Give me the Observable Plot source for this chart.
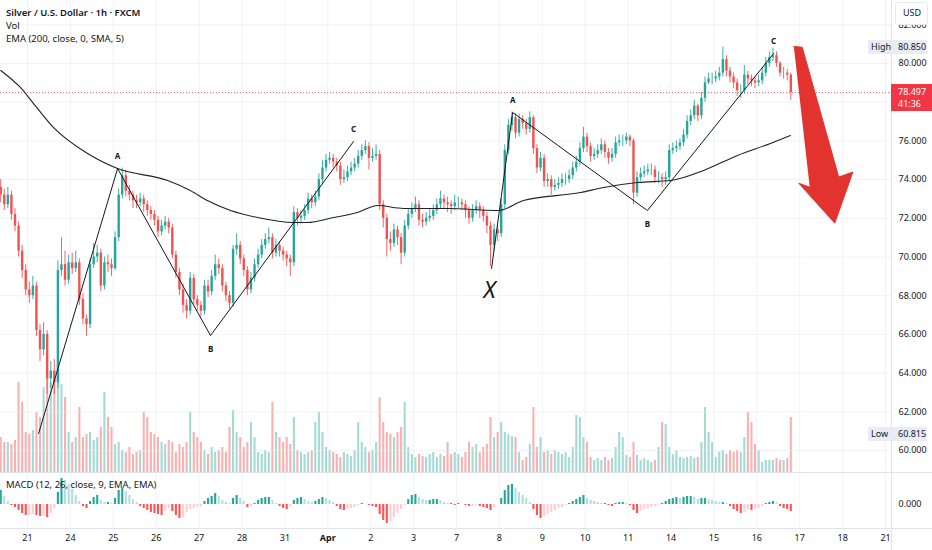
<!DOCTYPE html>
<html><head><meta charset="utf-8">
<script src="https://cdn.jsdelivr.net/npm/d3@7"></script>
<script src="https://cdn.jsdelivr.net/npm/@observablehq/plot@0.6"></script>
<style>
html,body{margin:0;padding:0;background:#fff;}
#wrap{position:relative;width:932px;height:550px;overflow:hidden;font-family:"Noto Sans",sans-serif;color:#131722;background:#fff;}
#wrap svg{position:absolute;left:0;overflow:visible;}
.lbl{position:absolute;white-space:nowrap;font-size:9.5px;line-height:12px;}
.sep{position:absolute;background:#e0e3eb;}
</style></head><body><div id="wrap"></div>
<script>
// ---------- DATA (2-hour candles) ----------
const opens = [73.6,73.2,72.7,73.2,72.2,71.6,70.3,69.3,68.3,68.0,
68.5,66.2,65.2,66.0,63.7,64.1,63.5,69.3,69.6,68.8,
69.7,69.4,69.7,67.8,66.8,66.5,69.6,70.0,70.2,68.5,
69.7,69.6,69.4,71.0,73.2,74.2,73.4,73.2,72.9,72.8,
73.0,72.7,72.4,72.2,71.9,71.3,71.6,71.8,71.5,70.1,
69.2,68.3,67.5,67.2,68.9,67.8,67.5,67.2,68.5,68.2,
69.0,69.6,69.4,68.5,68.0,67.6,70.4,70.6,69.9,69.3,
68.3,68.9,69.6,70.1,70.6,70.9,71.0,70.2,70.6,70.3,
70.1,69.9,69.7,72.3,72.0,72.1,72.4,73.0,72.8,73.1,
74.0,74.6,75.0,75.1,74.9,74.7,74.0,74.1,74.4,74.6,
74.8,75.2,75.5,75.7,75.1,75.2,75.3,72.7,72.0,70.9,
70.7,71.4,71.0,70.2,71.6,72.2,72.5,72.7,71.9,71.8,
72.0,72.1,72.4,72.7,73.0,72.8,72.7,72.6,72.8,72.8,
72.7,72.4,72.0,72.4,72.6,72.4,72.1,71.6,70.6,71.4,
71.2,72.7,75.5,76.8,77.2,76.4,77.1,76.9,76.6,77.2,
75.6,74.6,75.1,73.9,74.0,73.6,73.7,73.8,74.0,74.0,
74.2,74.6,74.9,75.6,76.2,75.7,75.2,75.3,75.5,75.8,
75.4,75.1,75.3,75.9,76.0,76.0,76.2,76.0,73.3,74.1,
74.3,74.4,74.5,74.5,74.1,74.1,74.0,74.1,75.5,75.6,
75.7,75.9,76.3,77.0,77.3,77.8,77.3,78.2,79.0,79.2,
79.2,79.3,79.5,80.2,79.6,79.3,79.0,78.6,78.6,79.4,
79.2,79.1,79.0,79.1,79.5,80.0,80.3,80.4,80.0,79.5,
79.5,79.4];
const highs = [74.0,73.5,73.6,73.4,72.5,71.8,70.6,69.6,68.7,69.0,
68.7,66.5,66.6,66.2,64.6,64.7,69.8,71.0,70.3,70.1,
70.2,70.3,69.9,68.1,67.0,69.9,70.7,70.6,70.4,70.0,
70.1,69.9,71.3,73.5,74.6,74.5,73.7,73.4,73.2,73.3,
73.2,72.9,72.6,72.4,72.1,71.9,72.1,72.0,71.7,70.3,
69.4,68.6,67.8,69.2,69.1,68.0,67.7,68.8,68.8,69.3,
70.1,69.9,69.6,68.7,68.2,70.6,71.2,70.8,70.1,69.5,
69.2,69.9,70.4,70.9,71.2,71.5,71.2,70.9,70.8,70.5,
70.3,70.1,72.6,72.5,72.4,72.7,73.3,73.2,73.4,74.3,
75.0,75.3,75.4,75.3,75.1,74.9,74.5,74.7,74.9,75.1,
75.5,75.8,76.0,75.9,75.6,75.8,75.5,72.9,72.2,71.3,
71.7,71.6,71.2,71.9,72.5,72.8,73.1,72.9,72.2,72.3,
72.5,72.7,73.0,73.4,73.2,73.1,72.9,73.2,73.1,73.0,
72.9,72.6,72.7,72.9,72.8,72.6,72.3,71.8,71.7,71.6,
73.0,75.8,77.1,77.5,77.4,77.4,77.3,77.1,77.5,77.3,
75.8,75.4,75.3,74.3,74.2,74.0,74.1,74.3,74.3,74.5,
74.9,75.2,75.9,76.7,76.4,75.9,75.6,75.8,76.1,76.0,
75.6,75.6,76.2,76.3,76.3,76.4,76.3,76.1,74.4,74.6,
74.7,74.8,74.8,74.7,74.4,74.3,74.4,75.8,75.9,76.0,
76.1,76.6,77.3,77.6,78.1,77.9,78.5,79.3,79.5,79.5,
79.6,79.8,80.85,80.4,79.8,79.5,79.2,78.9,79.9,79.6,
79.4,79.3,79.4,79.8,80.3,80.6,80.8,80.6,80.1,79.8,
79.7,79.5];
const lows = [72.8,72.4,72.5,71.9,71.3,70.0,68.9,68.0,67.6,67.8,
65.9,64.6,64.9,62.9,63.2,62.9,63.2,69.0,68.5,68.6,
69.1,69.2,67.5,66.5,65.9,66.3,69.4,69.7,68.2,68.3,
69.2,69.0,69.3,70.8,73.0,73.1,72.9,72.5,72.5,72.6,
72.3,72.1,71.9,71.6,71.0,71.1,71.4,71.2,69.9,68.9,
68.0,67.1,66.8,67.0,67.5,67.2,66.9,67.0,67.9,68.0,
68.8,69.1,68.2,67.7,67.3,67.4,70.1,69.6,69.0,68.0,
68.1,68.7,69.4,69.9,70.4,70.7,69.9,70.0,70.0,69.8,
69.5,69.0,69.5,71.6,71.7,71.9,72.2,72.5,72.6,72.9,
73.8,74.4,74.8,74.6,74.4,73.7,73.8,73.9,74.2,74.4,
74.6,75.0,75.3,74.5,74.9,75.0,72.4,71.5,70.0,70.3,
70.5,70.6,69.6,70.0,71.4,72.0,72.3,71.6,71.5,71.6,
71.8,71.9,72.2,72.5,72.5,72.3,72.2,72.4,72.5,72.4,
72.0,71.7,71.8,72.2,72.0,71.8,71.2,69.5,70.3,70.8,
71.0,72.5,75.3,76.5,76.1,76.2,76.6,76.3,76.4,75.3,
74.3,74.4,73.6,73.6,73.2,73.4,73.5,73.6,73.7,73.8,
74.0,74.4,74.7,75.4,75.4,74.9,75.0,75.1,75.3,75.1,
74.8,74.9,75.1,75.7,75.7,75.8,75.7,72.7,73.1,73.9,
74.1,74.2,74.2,73.8,73.8,73.6,73.7,73.9,75.3,75.4,
75.5,75.7,76.1,76.8,77.1,77.0,77.1,78.0,78.9,78.9,
79.0,79.1,79.3,79.3,79.0,78.7,78.3,78.2,78.4,78.9,
78.8,78.7,78.8,78.9,79.3,79.8,80.1,79.8,79.3,79.2,
79.1,78.1];
const closes = [73.2,72.7,73.2,72.2,71.6,70.3,69.3,68.3,68.0,68.5,
66.2,65.2,66.0,63.7,64.1,63.5,69.3,69.6,68.8,69.7,
69.4,69.7,67.8,66.8,66.5,69.6,70.0,70.2,68.5,69.7,
69.6,69.4,71.0,73.2,74.2,73.4,73.2,72.9,72.8,73.0,
72.7,72.4,72.2,71.9,71.3,71.6,71.8,71.5,70.1,69.2,
68.3,67.5,67.2,68.9,67.8,67.5,67.2,68.5,68.2,69.0,
69.6,69.4,68.5,68.0,67.6,70.4,70.6,69.9,69.3,68.3,
68.9,69.6,70.1,70.6,70.9,71.0,70.2,70.6,70.3,70.1,
69.9,69.7,72.3,72.0,72.1,72.4,73.0,72.8,73.1,74.0,
74.6,75.0,75.1,74.9,74.7,74.0,74.1,74.4,74.6,74.8,
75.2,75.5,75.7,75.1,75.2,75.3,72.7,72.0,70.9,70.7,
71.4,71.0,70.2,71.6,72.2,72.5,72.7,71.9,71.8,72.0,
72.1,72.4,72.7,73.0,72.8,72.7,72.6,72.8,72.8,72.7,
72.4,72.0,72.4,72.6,72.4,72.1,71.6,70.6,71.4,71.2,
72.7,75.5,76.8,77.2,76.4,77.1,76.9,76.6,77.2,75.6,
74.6,75.1,73.9,74.0,73.6,73.7,73.8,74.0,74.0,74.2,
74.6,74.9,75.6,76.2,75.7,75.2,75.3,75.5,75.8,75.4,
75.1,75.3,75.9,76.0,76.0,76.2,76.0,73.3,74.1,74.3,
74.4,74.5,74.5,74.1,74.1,74.0,74.1,75.5,75.6,75.7,
75.9,76.3,77.0,77.3,77.8,77.3,78.2,79.0,79.2,79.2,
79.3,79.5,80.2,79.6,79.3,79.0,78.6,78.6,79.4,79.2,
79.1,79.0,79.1,79.5,80.0,80.3,80.4,80.0,79.5,79.5,
79.4,78.5];
const volumes = [35,30,30,28,32,90,70,40,38,42,
60,55,85,95,90,92,95,88,75,40,
30,35,65,35,38,40,32,35,45,80,
55,45,28,30,22,20,25,18,20,22,
60,55,40,38,35,30,28,32,30,20,
28,25,30,60,40,35,30,22,18,25,
20,22,25,20,45,62,40,35,25,30,
50,35,20,18,22,20,70,40,35,30,
35,28,55,22,20,18,20,22,50,60,
40,25,22,20,18,15,20,18,16,22,
50,30,25,20,22,30,75,50,40,38,
35,40,45,70,25,18,15,18,16,15,
18,20,15,18,16,30,18,20,18,15,
20,30,25,28,20,25,28,55,35,40,
50,40,38,36,35,20,12,15,28,65,
25,35,20,22,18,22,20,18,20,15,
25,57,55,35,30,15,12,14,12,15,
12,14,25,40,35,17,15,30,17,12,
14,12,10,12,25,50,48,25,18,22,
15,14,15,16,14,15,30,65,40,30,
15,20,22,18,22,20,22,20,35,60,
50,28,22,10,12,12,12,14,12,12,
14,55];
const macdHist = [0.14,0.08,0.03,-0.01,-0.03,-0.06,-0.09,-0.11,-0.11,-0.10,
-0.11,-0.12,-0.12,-0.13,-0.09,-0.04,0.12,0.26,0.24,0.20,
0.15,0.09,0.03,-0.02,-0.04,0.03,0.07,0.09,0.04,0.02,
0.02,0.01,0.06,0.14,0.16,0.13,0.09,0.05,0.02,-0.02,
-0.04,-0.06,-0.08,-0.09,-0.10,-0.11,-0.07,-0.04,-0.07,-0.11,
-0.14,-0.13,-0.08,-0.05,-0.04,-0.03,-0.02,0.03,0.06,0.08,
0.11,0.08,0.04,0.02,0.01,0.06,0.09,0.06,0.03,-0.03,
-0.02,0.01,0.04,0.06,0.07,0.07,0.04,0.01,-0.02,-0.04,
-0.05,-0.03,0.04,0.06,0.07,0.05,0.03,0.02,0.03,0.05,
0.07,0.06,0.04,0.02,-0.02,-0.05,-0.06,-0.05,-0.04,-0.03,
-0.01,0.01,0.00,-0.01,-0.02,-0.03,-0.10,-0.16,-0.19,-0.17,
-0.13,-0.09,-0.05,-0.01,0.05,0.09,0.10,0.07,0.05,0.04,
0.04,0.05,0.05,0.04,0.02,0.01,0.01,-0.01,0.01,0.00,
-0.01,-0.02,-0.02,-0.01,-0.02,-0.03,-0.04,-0.06,-0.03,0.00,
0.06,0.14,0.19,0.20,0.16,0.12,0.09,0.06,0.02,-0.05,
-0.11,-0.14,-0.13,-0.10,-0.08,-0.06,-0.04,-0.03,-0.01,0.01,
0.03,0.05,0.07,0.09,0.06,0.04,0.03,0.02,0.01,0.01,
-0.01,-0.02,0.01,0.02,0.02,0.01,-0.01,-0.06,-0.09,-0.07,
-0.05,-0.04,-0.03,-0.02,-0.01,0.01,0.03,0.05,0.06,0.07,
0.06,0.07,0.08,0.08,0.07,0.05,0.06,0.06,0.05,0.04,
0.03,0.02,0.02,0.01,-0.02,-0.05,-0.07,-0.09,-0.08,-0.05,
-0.06,-0.05,-0.04,-0.02,0.01,0.02,0.03,0.02,-0.02,-0.04,
-0.05,-0.07];
// EMA(200) curve, read at bar positions
const emaBar = [0,5.5,9.2,14.8,24.3,32.7,46.7,53,57.8,64.3,71.8,81.9,85.8,93.1,99.8,105.4,112.7,125,139.2,146.2,162.2,168.6,178.1,187.4,196.6,206.1,215.3,220.9];
const emaVal = [79.64,78.76,77.93,76.69,75.35,74.57,73.95,73.44,72.92,72.40,72.04,71.78,71.78,72.04,72.30,72.66,72.51,72.51,72.40,72.92,73.33,73.59,73.85,73.95,74.47,75.25,75.87,76.28];
// hand-drawn wave annotations
const wave1Bar = [10.6,32.7,58.7,98.7], wave1Price = [60.88,74.57,65.94,75.97], wave1Label = ["","A","B","C"];
const wave2Bar = [137.3,143.2,180.9,216.2], wave2Price = [69.41,77.47,72.40,80.52], wave2Label = ["X","A","B","C"];
// big red arrow outline
const arrowBar = [221.85,224.2,234.4,238.35,233.3,223.25,226.3];
const arrowPrice = [80.88,80.84,74.13,74.39,71.75,73.81,73.61];
// axis labels
const dayLabels = ["21","24","25","26","27","28","31","Apr","2","3","7","8","9","10","11","14","15","16","17","18","21"];
const priceTicks = [60,62,64,66,68,70,72,74,76,78,80,82];
const priceLabelTicks = [60,62,64,66,68,70,72,74,76,80,82]; // 78.000 sits under the last-price tag
const lastPrice = 78.497, countdown = "41:36", highPrice = 80.850, lowPrice = 60.815;

// ---------- BUILD ----------
const W = 932, PANE = 472, AXW = 41, FONT = "Noto Sans, sans-serif";
const UP = "#26a69a", DN = "#ef5350";
const bars = closes.map((c, i) => ({i, o: opens[i], h: highs[i], l: lows[i], c, v: volumes[i], m: macdHist[i]}));
const isUp = d => d.c >= d.o;
const dayTicks = dayLabels.map((_, k) => 7.5 + 12 * k); // first (partial) day holds 8 bars, then 12 per day
const tickLabel = new Map(dayTicks.map((t, k) => [t, dayLabels[k]]));
const xDomain = [-0.056, 249.17];
const yDomain = [58.863, 83.256];
const ema = emaBar.map((b, k) => ({b, p: emaVal[k]}));
const wave1 = wave1Bar.map((b, k) => ({b, p: wave1Price[k], t: wave1Label[k]}));
const wave2 = wave2Bar.map((b, k) => ({b, p: wave2Price[k], t: wave2Label[k]}));
const waves = wave1.concat(wave2);
const arrow = arrowBar.map((b, k) => ({b, p: arrowPrice[k]}));
const base = {width: W, marginLeft: 0, marginRight: AXW, style: {background: "transparent", fontFamily: FONT, fontSize: "9px", color: "#131722"}};

const volPlot = Plot.plot({...base, height: PANE, marginTop: PANE - 100, marginBottom: 0,
  x: {domain: xDomain, axis: null}, y: {domain: [0, 100], axis: null},
  marks: [Plot.ruleX(bars, {x: "i", y1: 0, y2: "v", stroke: d => isUp(d) ? "#a3dad4" : "#f7b2b0", strokeWidth: 2.1})]});

const mainPlot = Plot.plot({...base, height: PANE, marginTop: 0, marginBottom: 0,
  x: {domain: xDomain, axis: null}, y: {domain: yDomain, axis: null},
  marks: [
    Plot.gridY(priceTicks, {stroke: "#e6e9f0", strokeOpacity: 0.6}),
    Plot.gridX(dayTicks, {stroke: "#e6e9f0", strokeOpacity: 0.6}),
    Plot.axisY(priceLabelTicks, {anchor: "right", label: null, tickFormat: d => d.toFixed(3), tickSize: 0, tickPadding: 7, fontSize: 9}),
    Plot.ruleY([lastPrice], {stroke: "#f23645", strokeDasharray: "1,2", strokeWidth: 0.8}),
    Plot.ruleX(bars, {x: "i", y1: "l", y2: "h", stroke: d => isUp(d) ? UP : DN, strokeWidth: 0.9}),
    Plot.ruleX(bars, {x: "i", y1: "o", y2: "c", stroke: d => isUp(d) ? UP : DN, strokeWidth: 2.4}),
    Plot.line(ema, {x: "b", y: "p", stroke: "#1e222d", strokeWidth: 1.1, curve: "monotone-x"}),
    Plot.line(wave1, {x: "b", y: "p", stroke: "#131722", strokeWidth: 1}),
    Plot.line(wave2, {x: "b", y: "p", stroke: "#131722", strokeWidth: 1}),
    Plot.text(waves.filter(d => d.t === "A" || d.t === "C"), {x: "b", y: "p", text: "t", dy: -12, fontSize: 8, fontWeight: "bold", fill: "#131722"}),
    Plot.text(waves.filter(d => d.t === "B"), {x: "b", y: "p", text: "t", dy: 14, fontSize: 8, fontWeight: "bold", fill: "#131722"}),
    Plot.text(waves.filter(d => d.t === "X"), {x: "b", y: "p", text: "t", dy: 22, dx: -2, fontSize: 23, fontStyle: "italic", fill: "#131722"}),
    Plot.line(arrow, {x: "b", y: "p", fill: "#e2332e", stroke: "#e2332e", strokeWidth: 1, strokeLinejoin: "round"})
  ]});

const macdColor = (d, i) => {
  const prev = i > 0 ? macdHist[i - 1] : 0;
  if (d.m >= 0) return d.m >= prev ? "#26a69a" : "#b2dfdb";
  return d.m < prev ? "#ff5252" : "#ffcdd2";
};
const macdPlot = Plot.plot({...base, height: 78, marginTop: 0, marginBottom: 22,
  x: {domain: xDomain, axis: null, label: null}, y: {domain: [-0.24, 0.32], axis: null, label: null},
  marks: [
    Plot.gridX(dayTicks, {stroke: "#e6e9f0", strokeOpacity: 0.6}),
    Plot.ruleX(bars, {x: "i", y1: 0, y2: "m", stroke: macdColor, strokeWidth: 2.1}),
    Plot.axisX(dayTicks, {anchor: "bottom", label: null, tickFormat: d => tickLabel.get(d), tickSize: 0, tickPadding: 6, fontSize: 9}),
    Plot.axisY([0], {anchor: "right", label: null, tickFormat: d => d.toFixed(3), tickSize: 0, tickPadding: 7, fontSize: 9})
  ]});
macdPlot.querySelectorAll("text").forEach(t => { if (t.textContent === "Apr") t.setAttribute("font-weight", "bold"); });

const wrap = document.getElementById("wrap");
[[volPlot, 0], [mainPlot, 0], [macdPlot, PANE]].forEach(([p, top]) => { p.style.top = top + "px"; wrap.appendChild(p); });

const y = mainPlot.scale("y");
function add(html, css) { const d = document.createElement("div"); d.className = "lbl"; d.innerHTML = html; Object.assign(d.style, css); wrap.appendChild(d); return d; }
function box(css) { const d = document.createElement("div"); d.style.position = "absolute"; d.style.boxSizing = "border-box"; Object.assign(d.style, css); wrap.appendChild(d); }
function sep(css) { const d = document.createElement("div"); d.className = "sep"; Object.assign(d.style, css); wrap.appendChild(d); }
sep({left: "0px", top: PANE + "px", width: W + "px", height: "1px"});
sep({left: "0px", top: "528px", width: W + "px", height: "1px"});
sep({left: (W - AXW) + "px", top: "0px", width: "1px", height: "550px"});

add("<b style='font-weight:600'>Silver / U.S. Dollar · 1h · FXCM</b>", {left: "6px", top: "7px"});
add("Vol", {left: "6px", top: "20px"});
add("EMA (200, close, 0, SMA, 5)", {left: "6px", top: "33px"});
add("MACD (12, 26, close, 9, EMA, EMA)", {left: "6px", top: "479px"});
box({left: "895px", top: "2px", width: "33px", height: "23px", background: "#fff", border: "1px solid #e6e9ef", borderRadius: "3px"});
add("USD", {left: "903px", top: "7px", fontSize: "9px"});

const yh = y.apply(highPrice), yl = y.apply(lowPrice), yp = y.apply(lastPrice);
box({left: "868px", top: (yh - 7) + "px", width: "59px", height: "14px", background: "#e8edf5"});
add("High", {left: "871px", top: (yh - 6) + "px", fontSize: "9px"});
add(highPrice.toFixed(3), {left: "898px", top: (yh - 6) + "px", fontSize: "9px"});
box({left: "868px", top: (yl - 7) + "px", width: "59px", height: "14px", background: "#e8edf5"});
add("Low", {left: "871px", top: (yl - 6) + "px", fontSize: "9px"});
add(lowPrice.toFixed(3), {left: "898px", top: (yl - 6) + "px", fontSize: "9px"});
box({left: (W - AXW) + "px", top: (yp - 8) + "px", width: AXW + "px", height: "27px", background: "#f23645"});
add(lastPrice.toFixed(3), {left: "898px", top: (yp - 6) + "px", fontSize: "9px", lineHeight: "11px", color: "#fff"});
add(countdown, {left: "898px", top: (yp + 6) + "px", fontSize: "9px", lineHeight: "11px", color: "#fff"});
</script></body></html>
